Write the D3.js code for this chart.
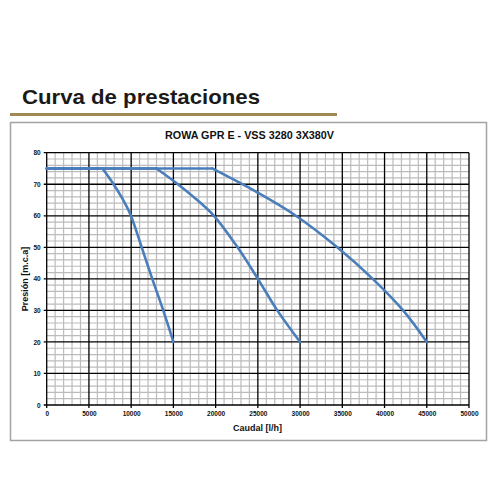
<!DOCTYPE html>
<html><head><meta charset="utf-8">
<script src="https://cdn.jsdelivr.net/npm/d3@7"></script>
<style>body{margin:0;background:#fff}svg{display:block}</style>
</head><body>
<script>
// Data
const pageTitle = "Curva de prestaciones";
const chartTitle = "ROWA GPR E - VSS 3280 3X380V";
const xLabel = "Caudal [l/h]";
const yLabel = "Presión [m.c.a]";
const xTicks = [0,5000,10000,15000,20000,25000,30000,35000,40000,45000,50000];
const yTicks = [0,10,20,30,40,50,60,70,80];
const curve1 = [[0,75],[6600,75],[7800,70.5],[8950,65.5],[9900,60.5],[11250,50],[12500,40],[13800,30],[15000,20]];
const curve2 = [[0,75],[13000,75],[15300,70.5],[17600,65.5],[19800,60],[22600,50],[25000,40],[27300,30],[30000,20]];
const curve3 = [[0,75],[19600,75],[25000,67.3],[29500,60],[34400,50],[38600,40],[42200,30],[45000,20]];
const curves = [curve1, curve2, curve3];

const svg = d3.select("body").append("svg").attr("width",500).attr("height",500);

// page title
svg.append("text").attr("x",22).attr("y",103.5)
  .attr("font-family","Liberation Sans, Arial, sans-serif").attr("font-weight","bold")
  .attr("font-size",21).attr("fill","#1a1a1a")
  .attr("textLength",238).attr("lengthAdjust","spacingAndGlyphs")
  .text(pageTitle);
svg.append("line").attr("x1",10).attr("x2",337).attr("y1",114.5).attr("y2",114.5)
  .attr("stroke","#9e8a52").attr("stroke-width",3);

// chart frame
svg.append("rect").attr("x",10.5).attr("y",122.5).attr("width",476).attr("height",318)
  .attr("fill","#fff").attr("stroke","#a3a3a3").attr("stroke-width",1.5);

const x = d3.scaleLinear().domain([0,50000]).range([46.7,469]);
const y = d3.scaleLinear().domain([0,80]).range([405,152.7]);

svg.append("text").attr("x",249.5).attr("y",139.3).attr("text-anchor","middle")
  .attr("font-family","Liberation Sans, Arial, sans-serif").attr("font-weight","bold")
  .attr("font-size",10).attr("fill","#111")
  .attr("textLength",169).attr("lengthAdjust","spacingAndGlyphs")
  .text(chartTitle);

const g = svg.append("g");
// minor grid
const xMinor = d3.range(1000,50000,1000).filter(v=>v%5000!==0);
const yMinor = d3.range(2,80,2).filter(v=>v%10!==0);
g.selectAll(".xm").data(xMinor).join("line")
  .attr("x1",d=>x(d)).attr("x2",d=>x(d)).attr("y1",y(0)).attr("y2",y(80))
  .attr("stroke","#bcbcbc").attr("stroke-width",1.2);
g.selectAll(".ym").data(yMinor).join("line")
  .attr("y1",d=>y(d)).attr("y2",d=>y(d)).attr("x1",x(0)).attr("x2",x(50000))
  .attr("stroke","#bcbcbc").attr("stroke-width",1.2);
// major grid
g.selectAll(".xM").data(xTicks).join("line")
  .attr("x1",d=>x(d)).attr("x2",d=>x(d)).attr("y1",y(0)+3).attr("y2",y(80))
  .attr("stroke","#000").attr("stroke-width",1.3);
g.selectAll(".yM").data(yTicks).join("line")
  .attr("y1",d=>y(d)).attr("y2",d=>y(d)).attr("x1",x(0)-3).attr("x2",x(50000))
  .attr("stroke","#000").attr("stroke-width",1.3);

// axes labels
const xa = d3.axisBottom(x).tickValues(xTicks).tickSize(0).tickPadding(6).tickFormat(d3.format("d"));
const ya = d3.axisLeft(y).tickValues(yTicks).tickSize(0).tickPadding(6).tickFormat(d3.format("d"));
const gx = svg.append("g").attr("transform",`translate(0,${y(0)})`).call(xa);
const gy = svg.append("g").attr("transform",`translate(${x(0)},0)`).call(ya);
[gx,gy].forEach(a=>{
  a.select(".domain").remove();
  a.selectAll("text").attr("font-family","Liberation Sans, Arial, sans-serif")
    .attr("font-weight","bold").attr("font-size",6.5).attr("fill","#111");
});

svg.append("text").attr("x",257.5).attr("y",430.5).attr("text-anchor","middle")
  .attr("font-family","Liberation Sans, Arial, sans-serif").attr("font-weight","bold")
  .attr("font-size",9).attr("fill","#111").text(xLabel);
svg.append("text").attr("transform",`translate(28,279) rotate(-90)`).attr("text-anchor","middle")
  .attr("font-family","Liberation Sans, Arial, sans-serif").attr("font-weight","bold")
  .attr("font-size",9).attr("fill","#111").text(yLabel);

// curves: flat section straight, falling section smoothed
const flat = d3.line().x(d=>x(d[0])).y(d=>y(d[1]));
const fall = d3.line().x(d=>x(d[0])).y(d=>y(d[1])).curve(d3.curveCatmullRom.alpha(0.5));
const cg = svg.selectAll(".curve").data(curves).join("g");
cg.append("path").attr("d",d=>flat(d.slice(0,2)))
  .attr("fill","none").attr("stroke","#4a7ebb").attr("stroke-width",2.6).attr("stroke-linecap","round");
cg.append("path").attr("d",d=>fall(d.slice(1)))
  .attr("fill","none").attr("stroke","#4a7ebb").attr("stroke-width",2.6)
  .attr("stroke-linejoin","round").attr("stroke-linecap","round");
</script>
</body></html>
